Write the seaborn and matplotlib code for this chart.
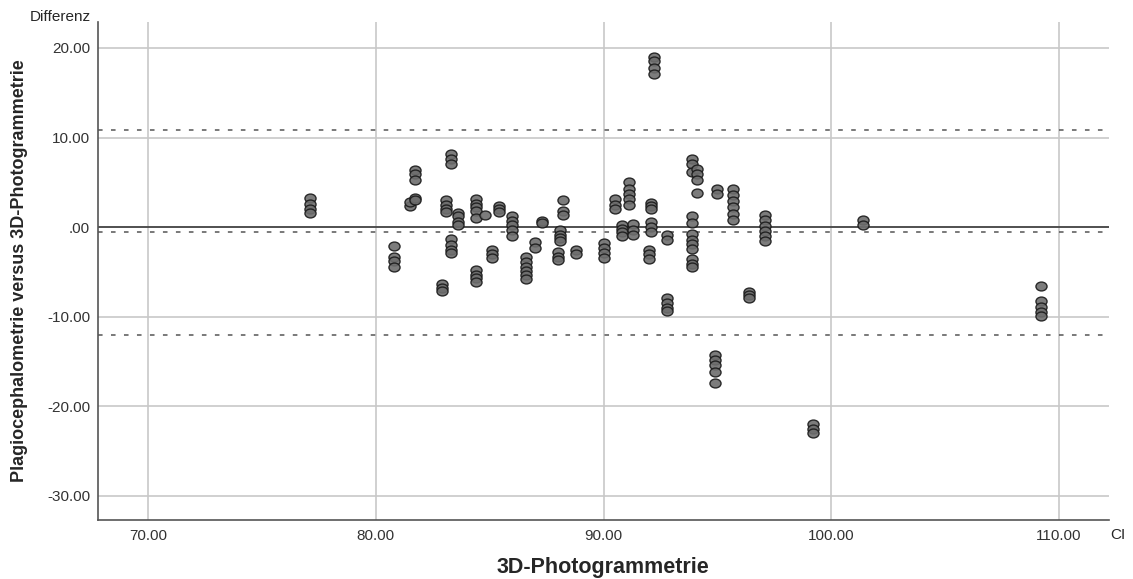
import pandas as pd
import matplotlib
matplotlib.use("Agg")
from matplotlib import pyplot as plt
from matplotlib.ticker import FuncFormatter
from matplotlib.path import Path
from matplotlib.transforms import Affine2D
import seaborn as sns

# x-Werte (CI, 3D-Photogrammetrie) und zugehoerige Differenzen
cl_x = [77.1, 80.8, 81.5, 81.7, 82.9, 83.1, 83.3, 83.6, 84.4, 84.8,
        85.1, 85.4, 86.0, 86.6, 87.0, 87.3, 88.2, 88.1, 88.0, 88.8,
        90.0, 90.5, 90.8, 91.1, 91.3, 92.0, 92.1, 92.2, 92.8, 93.9,
        94.1, 94.9, 95.0, 95.7, 96.4, 97.1, 99.2, 101.4, 109.2]
cl_diff = [
    [3.2, 2.6, 2.0, 1.6],
    [-2.1, -3.3, -3.8, -4.4],
    [2.4, 2.8],
    [3.3, 3.0, 6.4, 5.9, 5.3],
    [-6.3, -6.8, -7.1],
    [3.0, 2.5, 2.0, 1.7],
    [8.2, 7.6, 7.1, -1.3, -2.0, -2.5, -2.9],
    [1.6, 1.2, 0.6, 0.2],
    [3.1, 2.6, 2.2, 1.8, 1.0, -4.8, -5.3, -5.7, -6.1],
    [1.3],
    [-2.5, -3.0, -3.5],
    [2.4, 2.0, 1.7],
    [1.2, 0.7, 0.2, -0.3, -1.0],
    [-3.3, -3.9, -4.4, -4.9, -5.4, -5.8],
    [-1.7, -2.3],
    [0.7, 0.5],
    [3.0, 1.8, 1.3],
    [-0.3, -0.9, -1.2, -1.6],
    [-2.8, -3.3, -3.7],
    [-2.5, -3.0],
    [-1.8, -2.3, -2.9, -3.4],
    [3.1, 2.5, 2.0],
    [0.2, -0.2, -0.6, -1.0],
    [5.0, 4.3, 3.7, 3.1, 2.5],
    [0.3, -0.3, -0.9],
    [-2.5, -3.0, -3.6],
    [0.6, 0.0, -0.6, 2.7, 2.4, 2.0],
    [19.0, 18.6, 17.8, 17.1],
    [-0.9, -1.4, -7.9, -8.5, -9.0, -9.4],
    [1.2, 0.5, -0.8, -1.4, -1.9, -2.4, -3.6, -4.1, -4.5, 7.6, 7.0, 6.2],
    [6.5, 5.9, 5.3, 3.8],
    [-14.3, -14.8, -15.4, -16.2, -17.4],
    [4.3, 3.7],
    [4.3, 3.6, 2.9, 2.2, 1.5, 0.8],
    [-7.2, -7.6, -7.9],
    [1.4, 0.8, 0.1, -0.4, -1.0, -1.5],
    [-22.0, -22.5, -23.0],
    [0.8, 0.2],
    [-6.6, -8.3, -8.9, -9.5, -9.9],
]

mean_diff = -0.6
loa_upper = 10.85
loa_lower = -12.1

xticks = [70, 80, 90, 100, 110]
yticks = [20, 10, 0, -10, -20, -30]

rows = [(x, d) for x, ds in zip(cl_x, cl_diff) for d in ds]
Data = pd.DataFrame(rows, columns=['CI', 'Differenz'])

sns.set_theme(style='white')
plt.rcParams['font.family'] = ['Liberation Sans', 'DejaVu Sans']

fig = plt.figure(figsize=(11.33, 5.79), dpi=100)
ax = fig.add_axes([0.0862, 0.1019, 0.8926, 0.8601])

grid_c = '#c8c8c8'
for v in xticks:
    ax.axvline(v, color=grid_c, lw=1.2, zorder=0)
for v in yticks:
    ax.axhline(v, color=grid_c, lw=1.2, zorder=0)

ax.axhline(0, color='#3a3a3a', lw=1.2, zorder=1)
for v in (mean_diff, loa_upper, loa_lower):
    ax.axhline(v, color='#555555', lw=1.1, dashes=(3, 5.5), zorder=1)

# leicht ovale Punkte wie im Original
oval = Path(Affine2D().scale(1.0, 0.8).transform(Path.unit_circle().vertices),
            Path.unit_circle().codes)
sns.scatterplot(data=Data, x='CI', y='Differenz', ax=ax, s=64, marker=oval,
                color='#6e6e6e', edgecolor='#1a1a1a', linewidth=1.0,
                alpha=0.9, zorder=3, legend=False)

ax.set_xlim(67.78, 112.2)
ax.set_ylim(-32.7, 22.9)
ax.set_xticks(xticks)
ax.set_yticks(yticks)
fmt = FuncFormatter(lambda v, p: (lambda s: s[1:] if s.startswith('0.') else s)(f"{v:.2f}"))
ax.xaxis.set_major_formatter(fmt)
ax.yaxis.set_major_formatter(fmt)
ax.tick_params(length=0, labelsize=11, colors='#333333')
ax.tick_params(axis='x', pad=6.5)
ax.tick_params(axis='y', pad=5.5)

for side in ('top', 'right'):
    ax.spines[side].set_visible(False)
for side in ('left', 'bottom'):
    ax.spines[side].set_color('#555555')
    ax.spines[side].set_linewidth(1.2)

ax.set_xlabel('3D-Photogrammetrie', fontsize=15.5, fontweight='bold', va='top')
ax.xaxis.set_label_coords(0.5, -0.074)
ax.set_ylabel('Plagiocephalometrie versus 3D-Photogrammetrie', fontsize=13,
              fontweight='bold')
ax.yaxis.set_label_coords(-0.069, 0.5)

fig.text(91 / 1133, 1 - 17 / 579, 'Differenz', ha='right', va='center', fontsize=11)
fig.text(1110 / 1133, 1 - 535 / 579, 'CI', ha='left', va='center', fontsize=11)

fig.savefig('out.png', dpi=100)
